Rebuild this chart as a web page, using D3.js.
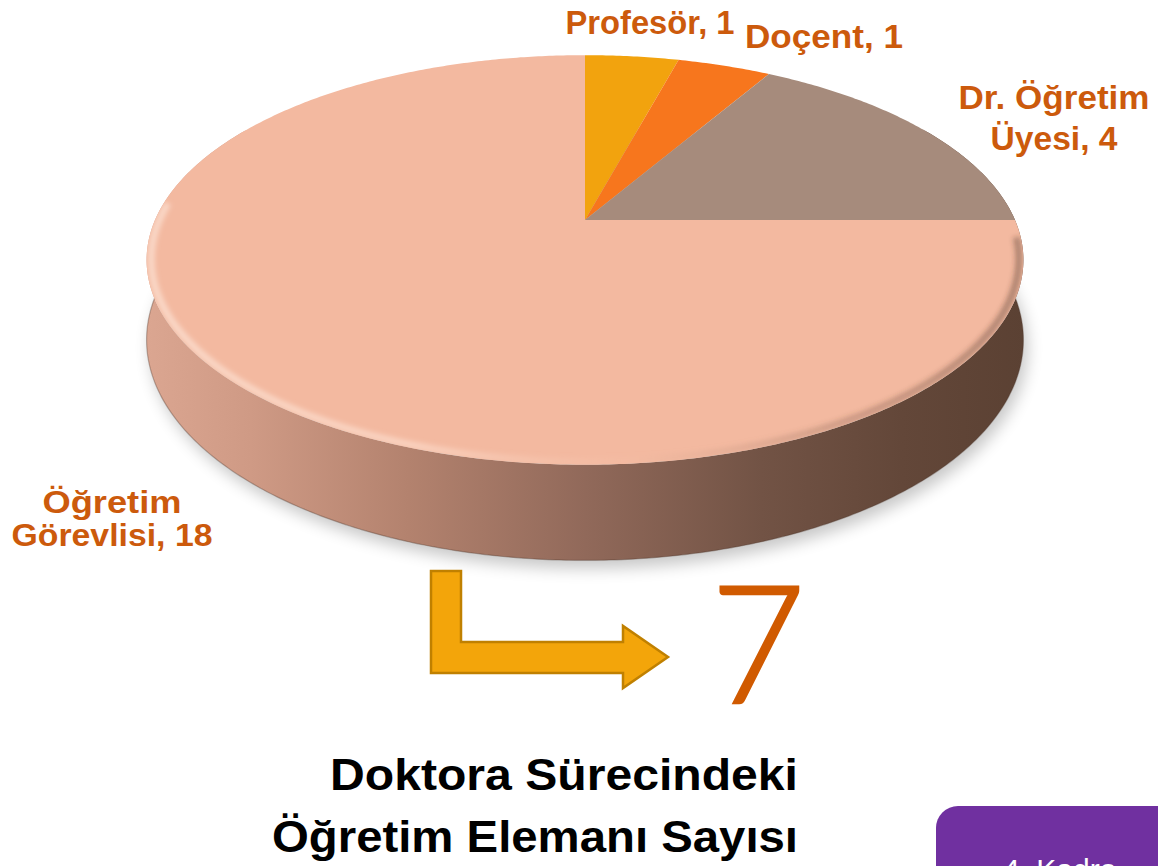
<!DOCTYPE html>
<html>
<head>
<meta charset="utf-8">
<script src="https://cdn.jsdelivr.net/npm/d3@7"></script>
<style>
  html, body { margin: 0; padding: 0; background: #ffffff; }
  svg { display: block; }
</style>
</head>
<body>
<div id="chart"></div>
<script>
// ---------------- data ----------------
const categories = ["Profesör", "Doçent", "Dr. Öğretim Üyesi", "Öğretim Görevlisi"];
const values = [1, 1, 4, 18];
const sliceColors = ["#f2a30e", "#f7761d", "#a68b7c", "#f3b9a0"];
// label line splits (text only)
const labelLines = [
  ["Profesör, 1"],
  ["Doçent, 1"],
  ["Dr. Öğretim", "Üyesi, 4"],
  ["Öğretim", "Görevlisi, 18"]
];
const bigNumber = "7";
const titleLines = ["Doktora Sürecindeki", "Öğretim Elemanı Sayısı"];
const buttonText = "4. Kadro";

// ---------------- layout ----------------
const W = 1158, H = 866;
const cx = 585, cy = 220;      // projected pie centre
const A = 430, B = 197, K = 0.195, DEPTH = 77;

const labelLayout = [
  {x: 650, y: [34], w: [169], size: 33},
  {x: 824, y: [48], w: [158], size: 33},
  {x: 1054, y: [109, 150], w: [191, 127], size: 33},
  {x: 112, y: [513, 546], w: [139, 201], size: 31}
];

const svg = d3.select("#chart").append("svg")
  .attr("width", W).attr("height", H)
  .attr("viewBox", `0 0 ${W} ${H}`);

const defs = svg.append("defs");

// perspective projection of a point on the unit disc rim (theta clockwise from top)
function P(theta, z = 0, r = 1) {
  const X = r * Math.sin(theta), c = r * Math.cos(theta);
  const den = 1 + K * c;
  return [cx + A * X / den, cy - B * c / den + z * DEPTH / den];
}
function arcPts(t0, t1, z = 0, r = 1) {
  const n = Math.max(2, Math.ceil(Math.abs(t1 - t0) / 0.01));
  return d3.range(n + 1).map(i => P(t0 + (t1 - t0) * i / n, z, r));
}
const line = d3.line();

const color = d3.scaleOrdinal().domain(categories).range(sliceColors);
const pie = d3.pie().sort(null).value(d => d.value);
const arcs = pie(categories.map((c, i) => ({cat: c, value: values[i]})));

// gradients / filters
const sideGrad = defs.append("linearGradient").attr("id", "sideGrad")
  .attr("gradientUnits", "userSpaceOnUse")
  .attr("x1", cx - A - 10).attr("x2", cx + A + 10).attr("y1", 0).attr("y2", 0);
[[0, "#dba691"], [0.12, "#cf9a85"], [0.3, "#b3826e"], [0.5, "#91695a"],
 [0.7, "#725345"], [0.86, "#634739"], [1, "#5b4133"]]
  .forEach(([o, c]) => sideGrad.append("stop").attr("offset", o).attr("stop-color", c));

const rimGrad = defs.append("linearGradient").attr("id", "rimGrad")
  .attr("gradientUnits", "userSpaceOnUse")
  .attr("x1", cx - A).attr("x2", cx + A).attr("y1", 0).attr("y2", 0);
[[0, "#fff0e6", 0.55], [0.3, "#ffe6d8", 0.55], [0.55, "#f6c3ab", 0.15], [0.8, "#5c4032", 0.25], [1, "#4a3328", 0.4]]
  .forEach(([o, c, op]) => rimGrad.append("stop").attr("offset", o).attr("stop-color", c).attr("stop-opacity", op));

defs.append("filter").attr("id", "shadowBlur").attr("x", "-20%").attr("y", "-20%").attr("width", "140%").attr("height", "140%")
  .append("feGaussianBlur").attr("stdDeviation", 8);
defs.append("filter").attr("id", "rimBlur").attr("x", "-10%").attr("y", "-10%").attr("width", "120%").attr("height", "120%")
  .append("feGaussianBlur").attr("stdDeviation", 2.5);

// top face outline (full rim) for clipping
const rimTop = arcPts(0, 2 * Math.PI, 0);
defs.append("clipPath").attr("id", "topClip")
  .append("path").attr("d", line(rimTop) + "Z");

const g = svg.append("g");

// shadow under pie
const bottomRim = arcPts(0, 2 * Math.PI, 1.0);
g.append("path")
  .attr("d", line(bottomRim.map(p => [p[0] + 4, p[1] + 8])) + "Z")
  .attr("fill", "#000").attr("opacity", 0.22)
  .attr("filter", "url(#shadowBlur)");

// side wall (front part)
const t0 = Math.PI * 60 / 180, t1 = Math.PI * 300 / 180;
const sideTop = arcPts(t0, t1, 0);
const sideBot = arcPts(t1, t0, 1);
g.append("path")
  .attr("d", line(sideTop.concat(sideBot)) + "Z")
  .attr("fill", "url(#sideGrad)");
// darker bottom edge line
g.append("path")
  .attr("d", line(arcPts(Math.PI * 80 / 180, Math.PI * 280 / 180, 1)))
  .attr("fill", "none").attr("stroke", "#4d362b").attr("stroke-opacity", 0.35).attr("stroke-width", 1.2);

// top face slices
g.selectAll("path.slice").data(arcs).join("path")
  .attr("class", "slice")
  .attr("d", d => line([[cx, cy]].concat(arcPts(d.startAngle, d.endAngle, 0))) + "Z")
  .attr("fill", d => color(d.data.cat));

// bevel highlight on front rim
g.append("g").attr("clip-path", "url(#topClip)")
  .append("path")
  .attr("d", line(arcPts(Math.PI * 95 / 180, Math.PI * 275 / 180, 0, 0.99)))
  .attr("fill", "none").attr("stroke", "url(#rimGrad)").attr("stroke-width", 7)
  .attr("filter", "url(#rimBlur)");

// labels
const labelColor = "#cc5a0c";
labelLines.forEach((lines, i) => {
  const L = labelLayout[i];
  lines.forEach((t, j) => {
    svg.append("text")
      .attr("x", L.x).attr("y", L.y[j])
      .attr("text-anchor", "middle")
      .attr("font-family", "'Liberation Sans', Arial, sans-serif")
      .attr("font-weight", "bold")
      .attr("font-size", L.size)
      .attr("fill", labelColor)
      .attr("textLength", L.w[j])
      .attr("lengthAdjust", "spacingAndGlyphs")
      .text(t);
  });
});

// bent arrow
svg.append("path")
  .attr("d", "M431,571 H461 V642 H623 V626 L668,657 L623,688 V673 H431 Z")
  .attr("fill", "#f3a50a").attr("stroke", "#c08000").attr("stroke-width", 2.5)
  .attr("stroke-linejoin", "miter");

// big number
svg.append("text")
  .attr("x", 758).attr("y", 703)
  .attr("text-anchor", "middle")
  .attr("font-family", "Lato, 'Open Sans', sans-serif")
  .attr("font-weight", 300)
  .attr("font-size", 164)
  .attr("fill", "#d05a00")
  .attr("stroke", "#d05a00").attr("stroke-width", 2.5)
  .text(bigNumber);

// title
const titleLayout = [{x: 798, y: 790, w: 468}, {x: 798, y: 852, w: 526}];
titleLines.forEach((t, i) => {
  svg.append("text")
    .attr("x", titleLayout[i].x - titleLayout[i].w).attr("y", titleLayout[i].y)
    .attr("font-family", "'Liberation Sans', Arial, sans-serif")
    .attr("font-weight", "bold")
    .attr("font-size", 45)
    .attr("fill", "#000")
    .attr("textLength", titleLayout[i].w)
    .attr("lengthAdjust", "spacingAndGlyphs")
    .text(t);
});

// purple button (cut off at the bottom edge, as in the reference)
svg.append("rect")
  .attr("x", 936).attr("y", 806).attr("width", 260).attr("height", 120)
  .attr("rx", 22).attr("fill", "#7030a0");
svg.append("text")
  .attr("x", 1003).attr("y", 880)
  .attr("font-family", "'Liberation Sans', Arial, sans-serif")
  .attr("font-size", 30).attr("fill", "#ffffff")
  .text(buttonText);
</script>
</body>
</html>
